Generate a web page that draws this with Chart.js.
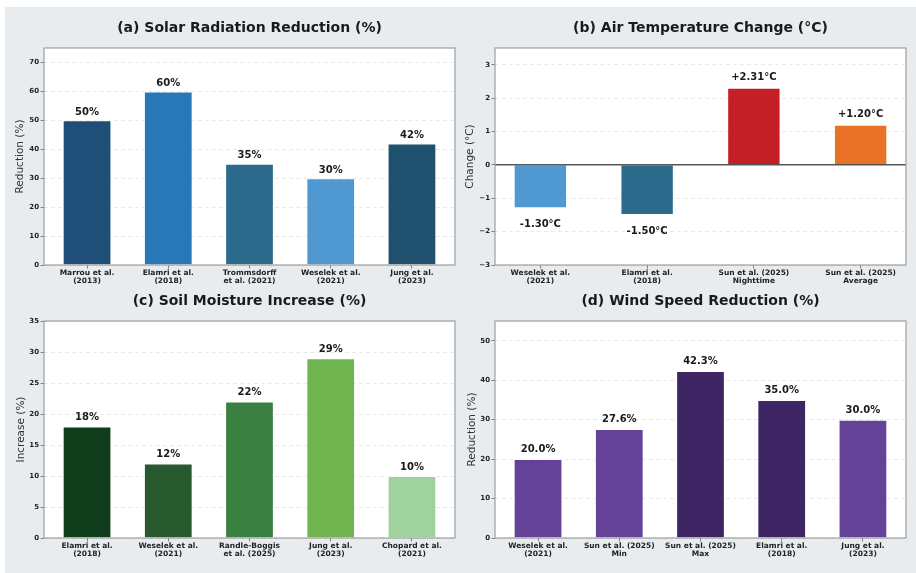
<!DOCTYPE html>
<html><head><meta charset="utf-8">
<script src="https://cdn.jsdelivr.net/npm/chart.js@4.4.1/dist/chart.umd.min.js"></script>
<style>
html,body{margin:0;padding:0;background:#fff;width:916px;height:573px;overflow:hidden;}
#fig{position:absolute;left:5px;top:7px;width:911px;height:566px;background:#e9ecef;}
canvas{position:absolute;}
</style></head><body>
<div id="fig"></div>
<canvas id="ca" width="455" height="278" style="left:5px;top:7px"></canvas>
<canvas id="cb" width="456" height="278" style="left:460px;top:7px"></canvas>
<canvas id="cc" width="455" height="288" style="left:5px;top:285px"></canvas>
<canvas id="cd" width="456" height="288" style="left:460px;top:285px"></canvas>
<script>
// ---- data ----
const solarCategories = [["Marrou et al.","(2013)"],["Elamri et al.","(2018)"],["Trommsdorff","et al. (2021)"],["Weselek et al.","(2021)"],["Jung et al.","(2023)"]];
const solarValues = [50, 60, 35, 30, 42];
const solarTicks = [0, 10, 20, 30, 40, 50, 60, 70];

const tempCategories = [["Weselek et al.","(2021)"],["Elamri et al.","(2018)"],["Sun et al. (2025)","Nighttime"],["Sun et al. (2025)","Average"]];
const tempValues = [-1.30, -1.50, 2.31, 1.20];
const tempTicks = [-3, -2, -1, 0, 1, 2, 3];

const soilCategories = [["Elamri et al.","(2018)"],["Weselek et al.","(2021)"],["Randle-Boggis","et al. (2025)"],["Jung et al.","(2023)"],["Chopard et al.","(2021)"]];
const soilValues = [18, 12, 22, 29, 10];
const soilTicks = [0, 5, 10, 15, 20, 25, 30, 35];

const windCategories = [["Weselek et al.","(2021)"],["Sun et al. (2025)","Min"],["Sun et al. (2025)","Max"],["Elamri et al.","(2018)"],["Jung et al.","(2023)"]];
const windValues = [20.0, 27.6, 42.3, 35.0, 30.0];
const windTicks = [0, 10, 20, 30, 40, 50];

// ---- styles ----
const solarColors = ['#1f4e79','#2878b8','#2c6a8b','#5098d2','#1f506e'];
const tempColors = ['#5098d2','#2c6a8b','#c41e26','#e87326'];
const soilColors = ['#0f3d1b','#27582e','#3a8040','#70b450','#a0d29e'];
const windColors = ['#644298','#644298','#3e2664','#3e2664','#644298'];

const FONT = '"DejaVu Sans", sans-serif';
const panelSettings = {};

const panelPlugin = {
  id: 'panel',
  beforeDraw(chart) {
    const ctx = chart.ctx, a = chart.chartArea;
    ctx.save();
    ctx.fillStyle = '#ffffff';
    ctx.fillRect(a.left, a.top, a.right - a.left, a.bottom - a.top);
    ctx.restore();
  },
  afterDraw(chart) {
    const o = panelSettings[chart.canvas.id];
    const ctx = chart.ctx, a = chart.chartArea;
    ctx.save();
    if (o.zeroLine) {
      const y0 = chart.scales.y.getPixelForValue(0);
      ctx.strokeStyle = '#555'; ctx.lineWidth = 1.5;
      ctx.beginPath(); ctx.moveTo(a.left, y0); ctx.lineTo(a.right, y0); ctx.stroke();
    }
    ctx.strokeStyle = '#9e9e9e'; ctx.lineWidth = 1.2;
    ctx.strokeRect(a.left, a.top, a.right - a.left, a.bottom - a.top);
    // title
    ctx.fillStyle = '#1a1a1a';
    ctx.font = 'bold 14px ' + FONT;
    ctx.textAlign = 'center'; ctx.textBaseline = 'middle';
    ctx.fillText(o.title, (a.left + a.right) / 2, o.titleY);
    // y title
    ctx.save();
    ctx.translate(o.yTitleX, (a.top + a.bottom) / 2);
    ctx.rotate(-Math.PI / 2);
    ctx.fillStyle = '#333';
    ctx.font = '10.5px ' + FONT;
    ctx.fillText(o.yTitle, 0, 0);
    ctx.restore();
    // value labels
    ctx.font = 'bold 10px ' + FONT;
    ctx.fillStyle = '#1a1a1a';
    const meta = chart.getDatasetMeta(0);
    meta.data.forEach((el, i) => {
      const v = o.values[i];
      const y = v >= 0 ? el.y - o.above : el.y + o.below;
      ctx.fillText(o.fmt(v), el.x, y);
    });
    ctx.restore();
  }
};

function makePanel(id, p) {
  panelSettings[id] = p;
  // matplotlib-like default x margins (5% of bar extent)
  const lo = -p.barWidth / 2, hi = p.categories.length - 1 + p.barWidth / 2;
  const m = 0.05 * (hi - lo);
  new Chart(document.getElementById(id), {
    type: 'bar',
    data: {
      datasets: [{
        data: p.values.map((v, i) => ({ x: i, y: v })),
        backgroundColor: p.colors,
        borderColor: 'rgba(255,255,255,0.55)',
        borderWidth: 1,
        barPercentage: p.barWidth,
        categoryPercentage: 1
      }]
    },
    options: {
      responsive: false,
      animation: false,
      events: [],
      layout: { padding: { top: p.padTop, right: p.padRight, bottom: p.padBottom, left: 0 } },
      plugins: {
        legend: { display: false },
        tooltip: { enabled: false },
        title: { display: false }
      },
      scales: {
        x: {
          type: 'linear',
          offset: false,
          min: lo - m, max: hi + m,
          afterBuildTicks: s => { s.ticks = p.categories.map((c, i) => ({ value: i })); },
          afterFit: s => { s.height = 20; },
          ticks: { font: { family: FONT, size: 7.5, weight: 'bold', lineHeight: 1.12 }, color: '#222',
                   padding: 0, maxRotation: 0, minRotation: 0, autoSkip: false,
                   callback: v => p.categories[v] },
          grid: { display: true, drawOnChartArea: false, offset: false, tickLength: 3.5,
                  tickColor: '#666', tickWidth: 0.8 },
          border: { display: false }
        },
        y: {
          min: p.yMin, max: p.yMax,
          afterBuildTicks: s => { s.ticks = p.ticks.map(v => ({ value: v })); },
          afterFit: s => { s.width = p.yWidth; },
          ticks: { font: { family: FONT, size: 7, weight: 'bold' }, color: '#222', padding: 1.5,
                   callback: v => String(v).replace('-', '\u2212') },
          grid: { color: 'rgba(0,0,0,0.11)', lineWidth: 0.8, tickLength: 3.5,
                  tickColor: '#666', tickWidth: 0.8, tickBorderDash: [] },
          border: { display: false, dash: [4, 3] }
        }
      }
    },
    plugins: [panelPlugin]
  });
}

makePanel('ca', {
  categories: solarCategories, values: solarValues, ticks: solarTicks, colors: solarColors,
  yMin: 0, yMax: 75, barWidth: 0.6, yWidth: 39, padTop: 41, padRight: 5, padBottom: 0,
  title: '(a) Solar Radiation Reduction (%)', titleY: 21, yTitle: 'Reduction (%)', yTitleX: 15,
  above: 8, fmt: v => v.toFixed(0) + '%'
});
makePanel('cb', {
  categories: tempCategories, values: tempValues, ticks: tempTicks, colors: tempColors,
  yMin: -3, yMax: 3.5, barWidth: 0.5, yWidth: 35, padTop: 41, padRight: 10, padBottom: 0,
  title: '(b) Air Temperature Change (°C)', titleY: 21, yTitle: 'Change (°C)', yTitleX: 10,
  above: 10, below: 16, zeroLine: true,
  fmt: v => (v > 0 ? '+' : '') + v.toFixed(2) + '°C'
});
makePanel('cc', {
  categories: soilCategories, values: soilValues, ticks: soilTicks, colors: soilColors,
  yMin: 0, yMax: 35, barWidth: 0.6, yWidth: 39, padTop: 36, padRight: 5, padBottom: 15,
  title: '(c) Soil Moisture Increase (%)', titleY: 16.7, yTitle: 'Increase (%)', yTitleX: 16,
  above: 9, fmt: v => v.toFixed(0) + '%'
});
makePanel('cd', {
  categories: windCategories, values: windValues, ticks: windTicks, colors: windColors,
  yMin: 0, yMax: 55, barWidth: 0.6, yWidth: 35, padTop: 36, padRight: 10, padBottom: 15,
  title: '(d) Wind Speed Reduction (%)', titleY: 16.7, yTitle: 'Reduction (%)', yTitleX: 12,
  above: 9.3, fmt: v => v.toFixed(1) + '%'
});
</script>
</body></html>
